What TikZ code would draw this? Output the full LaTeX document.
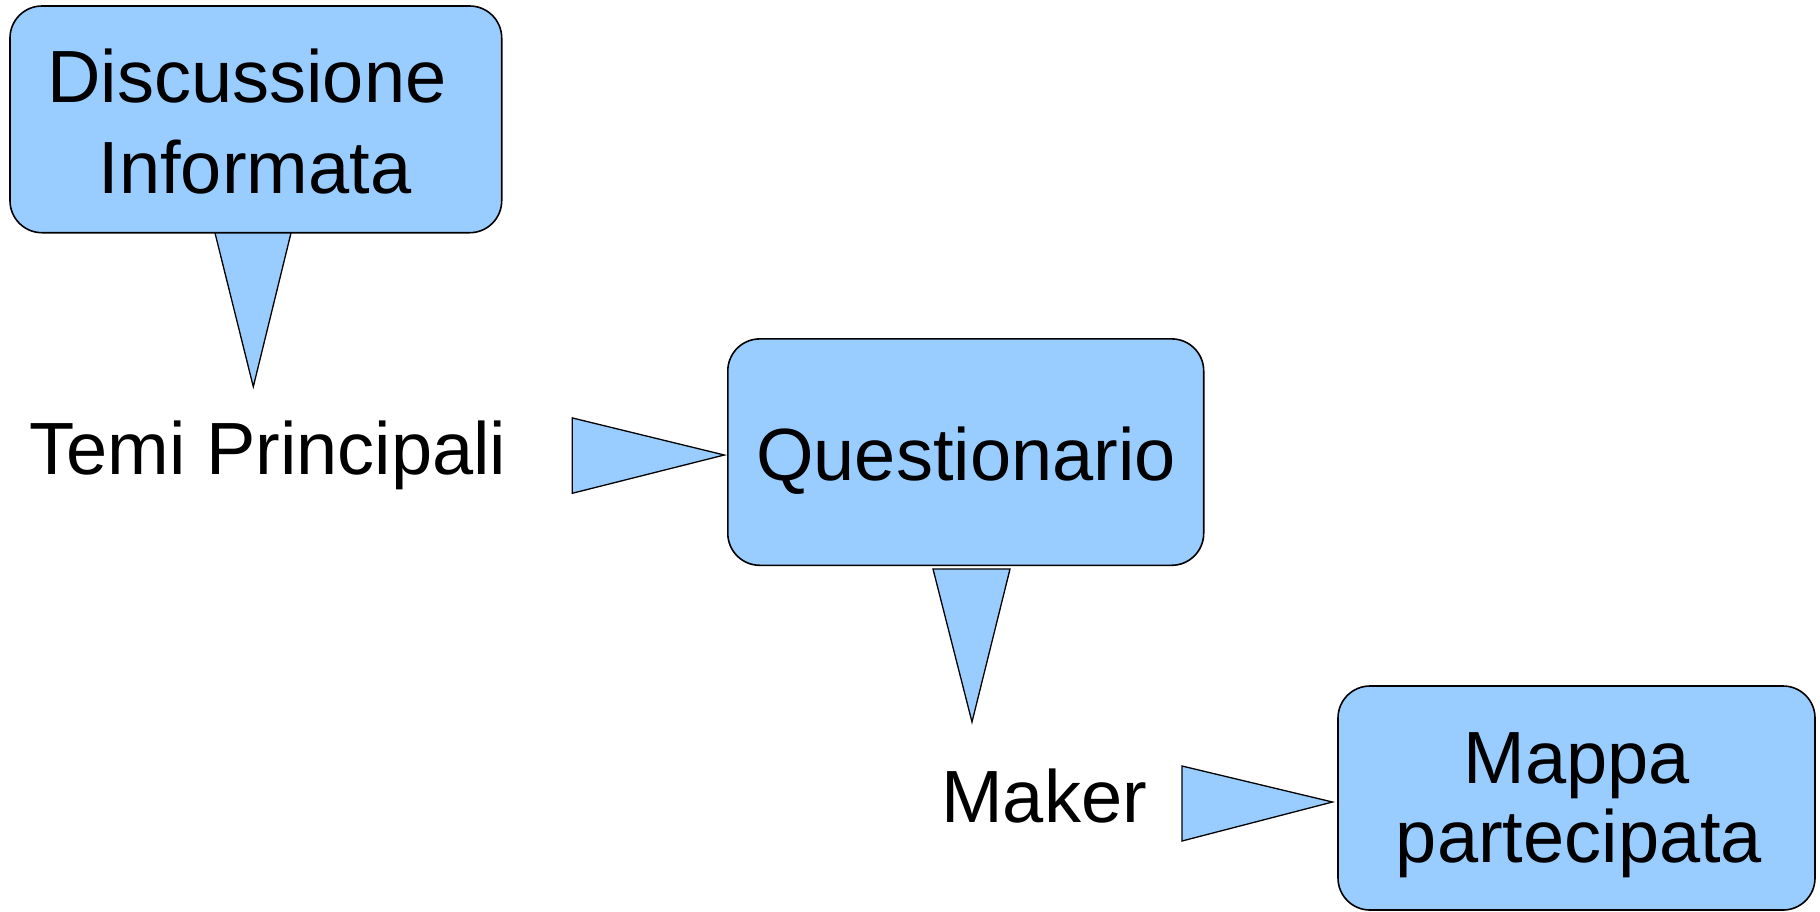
\documentclass[tikz,border=0pt]{standalone}
\usepackage{fontspec}
\setmainfont{Liberation Sans}
\definecolor{boxblue}{HTML}{99CCFF}
\tikzset{
  boxshape/.style={draw=black, line width=1.6pt, fill=boxblue, rounded corners=32pt, inner sep=0pt, rectangle},
  pointer/.style={draw=black, line width=1.3pt, fill=boxblue, line join=miter},
  txt/.style={inner sep=0pt, anchor=base, font=\fontsize{74}{80}\selectfont}
}
\begin{document}
\begin{tikzpicture}[x=1pt,y=-1pt]
\useasboundingbox (0,0) rectangle (1820,911);
% boxes
\node[boxshape, minimum width=491.7pt, minimum height=226.7pt] (box1) at (255.85,119.35) {};
\node[boxshape, minimum width=475.9pt, minimum height=226.4pt] (box2) at (965.75,452.1) {};
\node[boxshape, minimum width=477pt, minimum height=224pt] (box3) at (1576.5,798) {};
% pointers
\draw[pointer] (215,233) -- (291,233) -- (253.3,386.7) -- cycle;
\draw[pointer] (572.2,417.9) -- (724.3,455) -- (572.2,493.3) -- cycle;
\draw[pointer] (933,569) -- (1010,569) -- (972,722) -- cycle;
\draw[pointer] (1182,766) -- (1332.5,802) -- (1182,841) -- cycle;
% texts
\node[txt] (t1a) at (247,102.7) {Discussione};
\node[txt] (t1b) at (255,193) {Informata};
\node[txt] (t2) at (268,474) {Temi Principali};
\node[txt] (t3) at (966,480) {Questionario};
\node[txt] (t4) at (1044,822) {Maker};
\node[txt] (t5a) at (1577,783) {Mappa};
\node[txt] (t5b) at (1579,862.7) {partecipata};
\end{tikzpicture}
\end{document}
